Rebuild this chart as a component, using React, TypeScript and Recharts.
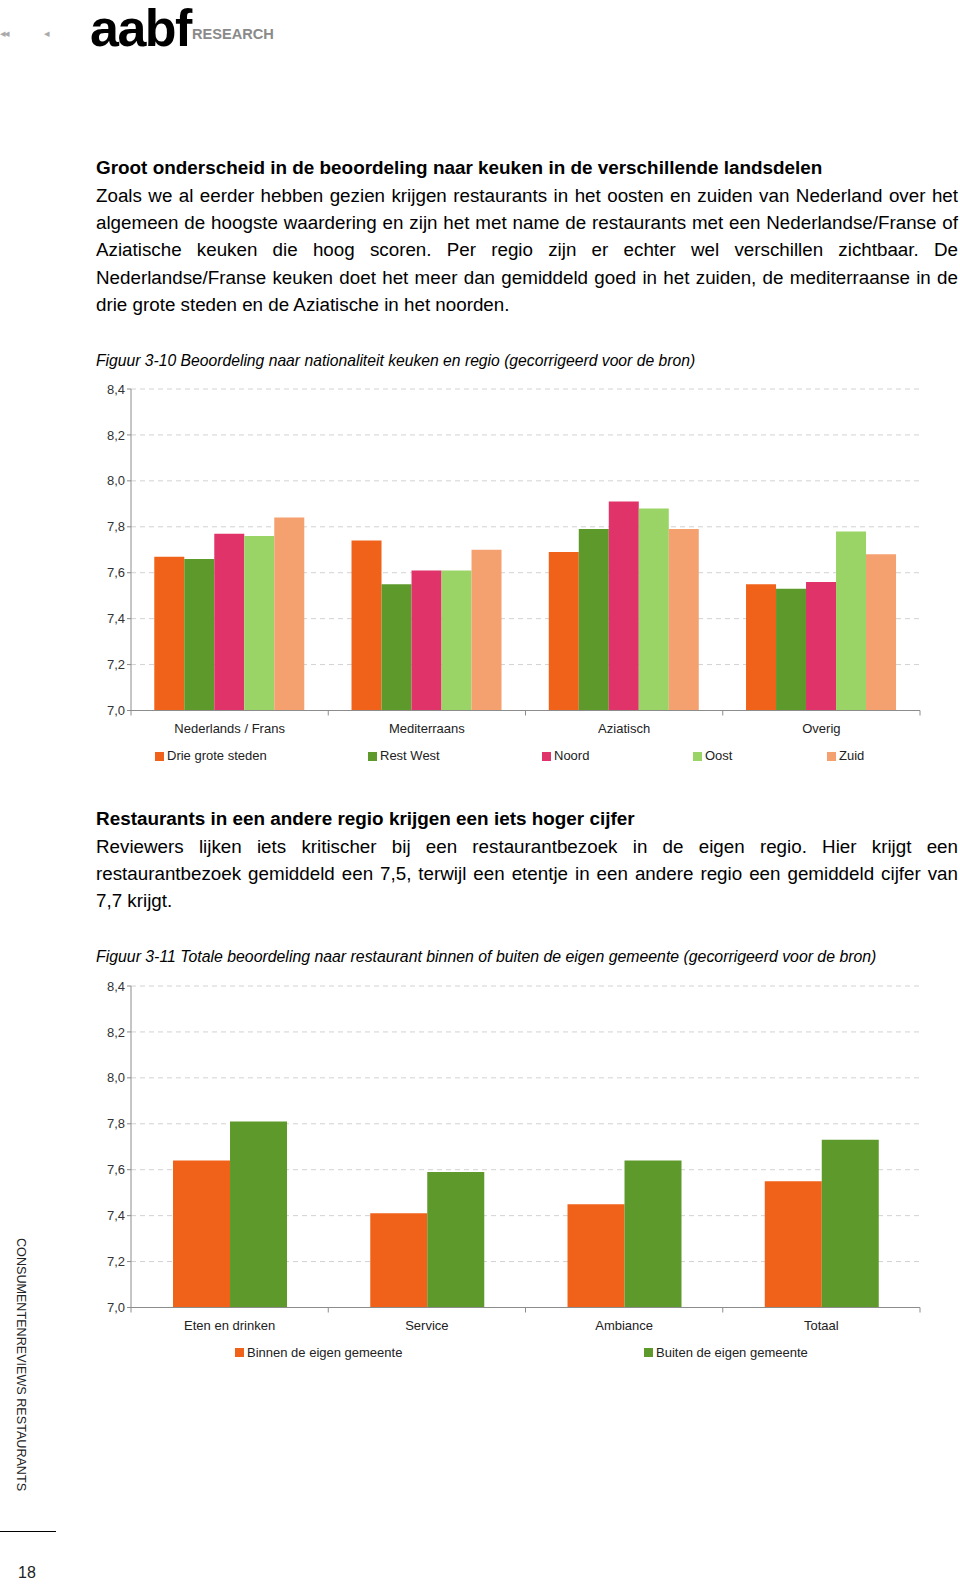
import React from "react"
import { BarChart, Bar, XAxis, YAxis, CartesianGrid, Legend } from "recharts"

const FONT = '"Liberation Sans", Arial, sans-serif'

// Figuur 3-10
const keukens = ["Nederlands / Frans", "Mediterraans", "Aziatisch", "Overig"]
const drieGroteSteden = [7.67, 7.74, 7.69, 7.55]
const restWest = [7.66, 7.55, 7.79, 7.53]
const noord = [7.77, 7.61, 7.91, 7.56]
const oost = [7.76, 7.61, 7.88, 7.78]
const zuid = [7.84, 7.7, 7.79, 7.68]

// Figuur 3-11
const aspecten = ["Eten en drinken", "Service", "Ambiance", "Totaal"]
const binnenGemeente = [7.64, 7.41, 7.45, 7.55]
const buitenGemeente = [7.81, 7.59, 7.64, 7.73]

const yTicks = [7.0, 7.2, 7.4, 7.6, 7.8, 8.0, 8.2, 8.4]

type Serie = { key: string; name: string; color: string; values: number[] }

const regioSeries: Serie[] = [
  { key: "drie", name: "Drie grote steden", color: "#F0621A", values: drieGroteSteden },
  { key: "west", name: "Rest West", color: "#5E9A2B", values: restWest },
  { key: "noord", name: "Noord", color: "#E0336A", values: noord },
  { key: "oost", name: "Oost", color: "#9BD466", values: oost },
  { key: "zuid", name: "Zuid", color: "#F5A06F", values: zuid },
]

const gemeenteSeries: Serie[] = [
  { key: "binnen", name: "Binnen de eigen gemeente", color: "#F0621A", values: binnenGemeente },
  { key: "buiten", name: "Buiten de eigen gemeente", color: "#5E9A2B", values: buitenGemeente },
]

const para1 = [
  "Zoals we al eerder hebben gezien krijgen restaurants in het oosten en zuiden van Nederland over het",
  "algemeen de hoogste waardering en zijn het met name de restaurants met een Nederlandse/Franse of",
  "Aziatische keuken die hoog scoren. Per regio zijn er echter wel verschillen zichtbaar. De",
  "Nederlandse/Franse keuken doet het meer dan gemiddeld goed in het zuiden, de mediterraanse in de",
  "drie grote steden en de Aziatische in het noorden.",
]

const para2 = [
  "Reviewers lijken iets kritischer bij een restaurantbezoek in de eigen regio. Hier krijgt een",
  "restaurantbezoek gemiddeld een 7,5, terwijl een etentje in een andere regio een gemiddeld cijfer van",
  "7,7 krijgt.",
]

const CHART_LEFT = 60
const CHART_W = 870
const CHART_H = 410
const PLOT_W = 789

function buildRows(categories: string[], series: Serie[]) {
  return categories.map((c, i) => {
    const row: Record<string, string | number> = { category: c }
    series.forEach((s) => (row[s.key] = s.values[i]))
    return row
  })
}

function makeCategoryTick(count: number) {
  const band = PLOT_W / count
  return (props: any) => {
    const { x, y, payload, index } = props
    return (
      <g>
        {index === 0 && <line x1={x - band / 2} x2={x - band / 2} y1={y} y2={y + 5} stroke="#8c8c8c" />}
        <line x1={x + band / 2} x2={x + band / 2} y1={y} y2={y + 5} stroke="#8c8c8c" />
        <text x={x} y={y + 22} textAnchor="middle" fontSize={13} fill="#222" fontFamily={FONT}>
          {payload.value}
        </text>
      </g>
    )
  }
}

function Chart({
  top,
  categories,
  series,
  gap,
  legendX,
}: {
  top: number
  categories: string[]
  series: Serie[]
  gap: string
  legendX: number[]
}) {
  const rows = buildRows(categories, series)
  const renderLegend = () => (
    <div style={{ position: "relative", height: 16, fontFamily: FONT, fontSize: 13, color: "#222" }}>
      {series.map((s, i) => (
        <div
          key={s.key}
          style={{ position: "absolute", left: legendX[i] - CHART_LEFT, top: 0, display: "flex", alignItems: "center", whiteSpace: "nowrap" }}
        >
          <span style={{ display: "inline-block", width: 9, height: 9, background: s.color, marginRight: 3 }} />
          <span style={{ lineHeight: "16px" }}>{s.name}</span>
        </div>
      ))}
    </div>
  )
  return (
    <div style={{ position: "absolute", left: CHART_LEFT, top, width: CHART_W, height: CHART_H }}>
      <BarChart
        width={CHART_W}
        height={CHART_H}
        data={rows}
        margin={{ top: 14, right: 10, left: 0, bottom: 44.5 }}
        barCategoryGap={gap}
        barGap={0}
      >
        <CartesianGrid vertical={false} stroke="#d2d2d2" strokeDasharray="5 4" />
        <XAxis
          dataKey="category"
          height={30}
          axisLine={{ stroke: "#8c8c8c" }}
          tickLine={false}
          tickSize={0}
          tickMargin={0}
          interval={0}
          tick={makeCategoryTick(categories.length)}
        />
        <YAxis
          type="number"
          domain={[7, 8.4]}
          ticks={yTicks}
          width={71}
          axisLine={{ stroke: "#8c8c8c" }}
          tickLine={{ stroke: "#8c8c8c" }}
          tickSize={4}
          tickMargin={2}
          tick={{ fontSize: 13, fill: "#333", fontFamily: FONT }}
          tickFormatter={(v: number) => v.toFixed(1).replace(".", ",")}
        />
        {series.map((s) => (
          <Bar key={s.key} dataKey={s.key} name={s.name} fill={s.color} isAnimationActive={false} />
        ))}
        <Legend
          layout="horizontal"
          verticalAlign="middle"
          align="center"
          wrapperStyle={{ top: 373, left: 0, width: CHART_W }}
          content={renderLegend}
        />
      </BarChart>
    </div>
  )
}

const lineStyle: React.CSSProperties = {
  fontSize: 18.8,
  lineHeight: "27.3px",
  textAlign: "justify",
  textAlignLast: "justify",
}
const heading: React.CSSProperties = { fontSize: 18.9, lineHeight: "27.3px", fontWeight: 700, whiteSpace: "nowrap" }
const caption: React.CSSProperties = { fontSize: 15.7, fontStyle: "italic", lineHeight: "20px", whiteSpace: "nowrap" }

function Paragraph({ lines }: { lines: string[] }) {
  return (
    <>
      {lines.map((l, i) => (
        <div key={i} style={i === lines.length - 1 ? { ...lineStyle, textAlignLast: "left" } : lineStyle}>
          {l}
        </div>
      ))}
    </>
  )
}

export default function App() {
  return (
    <div
      style={{
        position: "absolute",
        left: 0,
        top: 0,
        width: 960,
        height: 1585,
        background: "#fff",
        overflow: "hidden",
        fontFamily: FONT,
        color: "#000",
      }}
    >
      {/* header */}
      <div style={{ position: "absolute", left: 0, top: 27, fontSize: 11, color: "#aaa", letterSpacing: -2 }}>◂◂</div>
      <div style={{ position: "absolute", left: 44, top: 27, fontSize: 11, color: "#aaa" }}>◂</div>
      <div
        style={{
          position: "absolute",
          left: 90,
          top: 2,
          fontSize: 52,
          fontWeight: 900,
          letterSpacing: -1.5,
          lineHeight: "52px",
        }}
      >
        aabf
      </div>
      <div style={{ position: "absolute", left: 192, top: 26, fontSize: 14.6, fontWeight: 700, color: "#8a8a8a" }}>
        RESEARCH
      </div>

      {/* section 1 */}
      <div style={{ position: "absolute", left: 96, top: 154.4, width: 862 }}>
        <div style={heading}>Groot onderscheid in de beoordeling naar keuken in de verschillende landsdelen</div>
        <Paragraph lines={para1} />
      </div>
      <div style={{ position: "absolute", left: 96, top: 351, ...caption }}>
        Figuur 3-10 Beoordeling naar nationaliteit keuken en regio (gecorrigeerd voor de bron)
      </div>

      <Chart top={375} categories={keukens} series={regioSeries} gap="11.8%" legendX={[155, 368, 542, 693, 827]} />

      {/* section 2 */}
      <div style={{ position: "absolute", left: 96, top: 805.4, width: 862 }}>
        <div style={heading}>Restaurants in een andere regio krijgen een iets hoger cijfer</div>
        <Paragraph lines={para2} />
      </div>
      <div style={{ position: "absolute", left: 96, top: 947, ...caption, fontSize: 15.85 }}>
        Figuur 3-11 Totale beoordeling naar restaurant binnen of buiten de eigen gemeente (gecorrigeerd voor de bron)
      </div>

      <Chart top={971.5} categories={aspecten} series={gemeenteSeries} gap="21.3%" legendX={[235, 644]} />

      {/* sidebar */}
      <div
        style={{
          position: "absolute",
          left: 14,
          top: 1238,
          writingMode: "vertical-rl",
          fontSize: 12.6,
          color: "#222",
          whiteSpace: "nowrap",
        }}
      >
        CONSUMENTENREVIEWS RESTAURANTS
      </div>
      <div style={{ position: "absolute", left: 0, top: 1531, width: 56, height: 1, background: "#000" }} />
      <div style={{ position: "absolute", left: 18, top: 1564, fontSize: 16, color: "#222" }}>18</div>
    </div>
  )
}
